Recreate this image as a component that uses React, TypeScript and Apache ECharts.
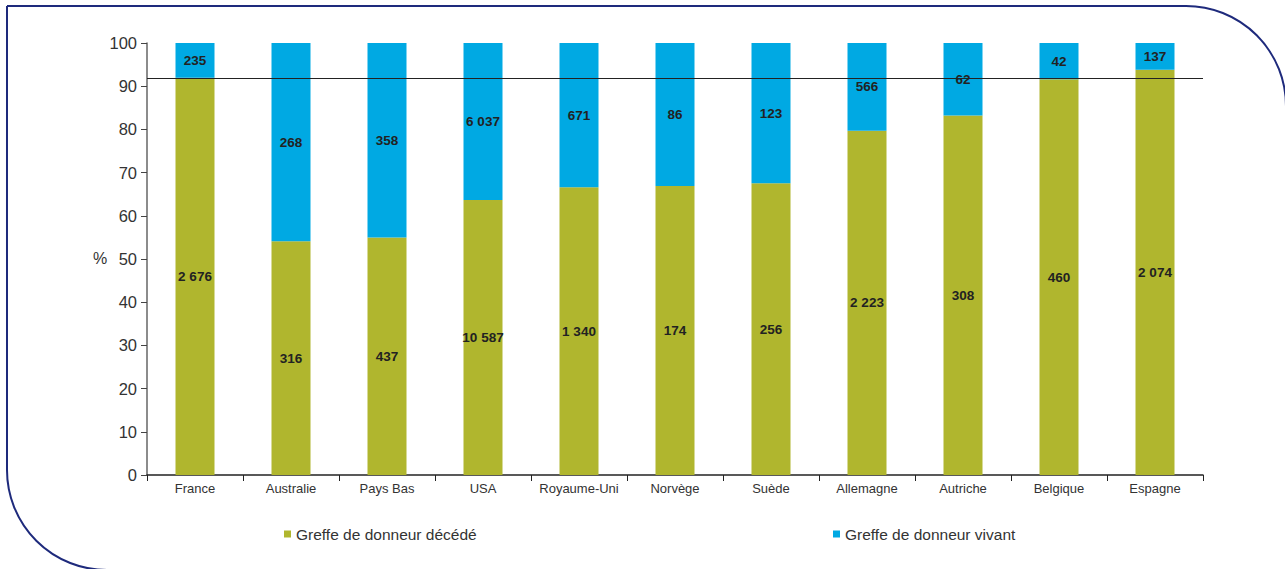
import React, { useEffect, useRef } from "react";
import * as echarts from "echarts";

const countries = ["France", "Australie", "Pays Bas", "USA", "Royaume-Uni", "Norvège", "Suède", "Allemagne", "Autriche", "Belgique", "Espagne"];
const deceasedCounts = [2676, 316, 437, 10587, 1340, 174, 256, 2223, 308, 460, 2074];
const livingCounts = [235, 268, 358, 6037, 671, 86, 123, 566, 62, 42, 137];
const yTicks = [0, 10, 20, 30, 40, 50, 60, 70, 80, 90, 100];
const seriesNames = ["Greffe de donneur décédé", "Greffe de donneur vivant"];

const GREEN = "#B0B62E";
const BLUE = "#00A9E3";
const FONT = "Liberation Sans, Arial, sans-serif";

const fmt = (n: number) => String(n).replace(/\B(?=(\d{3})+(?!\d))/g, " ");

export default function App() {
  const ref = useRef<HTMLDivElement>(null);
  useEffect(() => {
    if (!ref.current) return;
    const chart = echarts.init(ref.current, null, { renderer: "svg" });
    const totals = deceasedCounts.map((d, i) => d + livingCounts[i]);
    const deceasedPct = deceasedCounts.map((d, i) => (d / totals[i]) * 100);
    const livingPct = livingCounts.map((l, i) => (l / totals[i]) * 100);
    const labelStyle = {
      show: true,
      position: "inside",
      color: "#222",
      fontWeight: "bold",
      fontSize: 13.5,
      fontFamily: FONT,
    };
    chart.setOption({
      animation: false,
      grid: { left: 147, top: 43, right: 82, bottom: 94, containLabel: false },
      legend: [
        {
          data: [seriesNames[0]],
          left: 279,
          top: 521,
          icon: "rect",
          itemWidth: 7,
          itemHeight: 7,
          itemGap: 5,
          textStyle: { fontSize: 15.5, color: "#333", fontFamily: FONT },
        },
        {
          data: [seriesNames[1]],
          left: 828,
          top: 521,
          icon: "rect",
          itemWidth: 7,
          itemHeight: 7,
          itemGap: 5,
          textStyle: { fontSize: 15.5, color: "#333", fontFamily: FONT },
        },
      ],
      xAxis: {
        type: "category",
        data: countries,
        axisLine: { lineStyle: { color: "#222", width: 1.5 } },
        axisTick: { show: true, length: 6, alignWithLabel: false, lineStyle: { color: "#222" } },
        axisLabel: { color: "#333", fontSize: 13, fontFamily: FONT, margin: 7, interval: 0 },
      },
      yAxis: {
        type: "value",
        min: yTicks[0],
        max: yTicks[yTicks.length - 1],
        interval: 10,
        splitLine: { show: false },
        axisLine: { show: true, lineStyle: { color: "#666", width: 1.5 } },
        axisTick: { show: true, length: 6, lineStyle: { color: "#444" } },
        axisLabel: { color: "#333", fontSize: 16.5, fontFamily: FONT, margin: 10 },
      },
      graphic: [
        {
          type: "rect",
          shape: { x: 7, y: 6, width: 1279, height: 564, r: [0, 100, 0, 100] },
          style: { fill: "none", stroke: "#1E2A7C", lineWidth: 2 },
          silent: true,
        },
        {
          type: "text",
          left: 93,
          top: 250,
          style: { text: "%", fill: "#333", font: "16px " + FONT },
        },
      ],
      series: [
        {
          name: "ref",
          type: "line",
          data: [],
          z: 1,
          silent: true,
          markLine: {
            silent: true,
            symbol: "none",
            label: { show: false },
            lineStyle: { color: "#222", width: 1.2, type: "solid" },
            data: [{ yAxis: deceasedPct[0] }],
          },
        },
        {
          name: seriesNames[0],
          type: "bar",
          stack: "total",
          barWidth: 39,
          z: 3,
          data: deceasedPct,
          itemStyle: { color: GREEN },
          label: { ...labelStyle, formatter: (p: any) => fmt(deceasedCounts[p.dataIndex]) },
        },
        {
          name: seriesNames[1],
          type: "bar",
          stack: "total",
          barWidth: 39,
          z: 3,
          data: livingPct,
          itemStyle: { color: BLUE },
          label: { ...labelStyle, formatter: (p: any) => fmt(livingCounts[p.dataIndex]) },
        },
      ],
    });
    return () => chart.dispose();
  }, []);
  return <div ref={ref} style={{ width: 1285, height: 569, position: "absolute", left: 0, top: 0 }} />;
}
